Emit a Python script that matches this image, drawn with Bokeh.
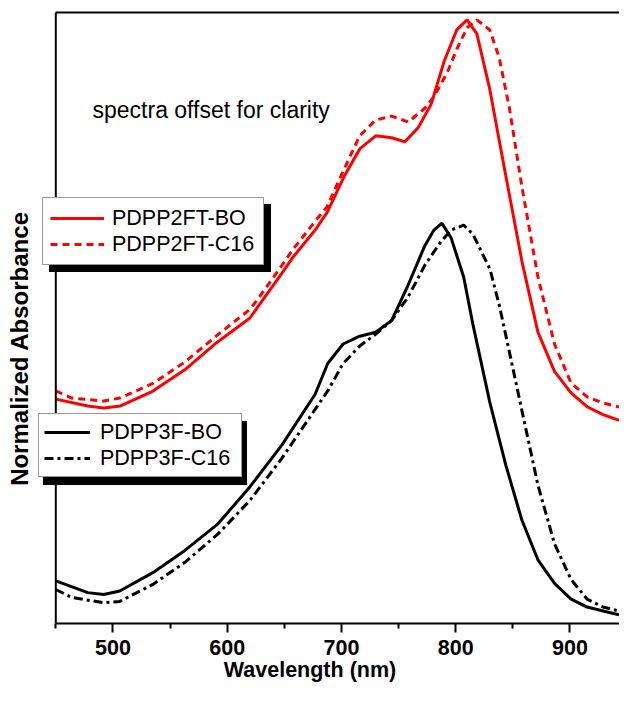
import math
from bokeh.plotting import figure
from bokeh.models import Range1d, LinearAxis, FixedTicker, Legend, LegendItem, Label, Span, Title
from bokeh.embed import file_html
from bokeh.resources import INLINE

# ---- data ----
wl_3f_bo = [450, 478, 492, 506, 535, 563, 592, 620, 648, 677, 688, 701.5, 716, 730, 744,
            758.5, 773, 781, 788, 796, 807, 815, 830, 844, 858, 872, 886.5, 901, 915, 929, 943]
abs_3f_bo = [0.085, 0.055, 0.05, 0.059, 0.106, 0.163, 0.231, 0.326, 0.433, 0.5625, 0.641, 0.691,
             0.711, 0.721, 0.7515, 0.8425, 0.9425, 0.9825, 1.0, 0.9625, 0.8625, 0.7425, 0.5405,
             0.38, 0.24, 0.139, 0.0785, 0.0385, 0.018, 0.008, -0.002]

wl_3f_c16 = [450, 464, 492, 506, 535, 563, 592, 620, 648, 677, 688, 701.5, 716, 730, 744,
             758.5, 773, 787, 796, 807, 815, 830, 838, 847, 858, 872, 886.5, 901, 915, 929, 943]
abs_3f_c16 = [0.063, 0.0425, 0.029, 0.0325, 0.076, 0.1325, 0.205, 0.291, 0.399, 0.524, 0.571,
              0.641, 0.686, 0.716, 0.7515, 0.812, 0.8925, 0.9525, 0.9825, 0.995, 0.9725, 0.8825,
              0.7925, 0.671, 0.5205, 0.33, 0.18, 0.0885, 0.0385, 0.018, 0.008]

wl_2ft_bo = [450, 478, 492, 506.6, 534.7, 562.9, 591, 620, 626, 648, 657.5, 677, 687.5, 702, 716,
             730, 744, 755.5, 767, 778.5, 790, 801, 810, 818.5, 829.7, 838, 847, 858, 872, 886.5,
             901, 915, 929, 943]
abs_2ft_bo = [0.55, 0.5325, 0.5275, 0.5325, 0.57, 0.625, 0.695, 0.7575, 0.7825, 0.8725, 0.9125,
              0.9825, 1.0275, 1.1175, 1.19, 1.2235, 1.2185, 1.2085, 1.2438, 1.304, 1.415, 1.495,
              1.52, 1.485, 1.345, 1.2135, 1.073, 0.9025, 0.7215, 0.621, 0.566, 0.5305, 0.5105,
              0.4955]

wl_2ft_c16 = [450, 464, 492, 506, 535, 563, 592, 620, 626, 648, 657.5, 677, 687.5, 701.5, 716,
              730, 744, 758.5, 773, 781, 792.4, 801, 810, 818.5, 829.7, 838, 847, 858, 872, 886.5,
              901, 915, 929, 943]
abs_2ft_c16 = [0.571, 0.5528, 0.545, 0.5528, 0.59, 0.645, 0.715, 0.78, 0.8025, 0.8925, 0.9325,
               1.005, 1.0425, 1.133, 1.2235, 1.264, 1.274, 1.259, 1.294, 1.324, 1.384, 1.445, 1.5,
               1.52, 1.495, 1.425, 1.295, 1.093, 0.8625, 0.691, 0.591, 0.556, 0.54, 0.53]

x_major_ticks = [500, 600, 700, 800, 900]
x_minor_ticks = [450, 550, 650, 750, 850]
x_axis_start, x_axis_end = 450, 943.4

FONT = "Liberation Sans"
W, H = 619, 688
FRAME_BOTTOM = 623  # px from the top of the figure

p = figure(width=W, height=H, x_range=Range1d(401.6, x_axis_end), y_range=Range1d(-0.024, 1.539),
           output_backend="svg", toolbar_location=None, y_axis_location=None,
           min_border_left=0, min_border_right=0, min_border_top=12,
           min_border_bottom=H - FRAME_BOTTOM)
p.outline_line_color = None
p.grid.visible = False
p.background_fill_color = "white"
p.border_fill_color = "white"

# bottom axis
xa = p.xaxis[0]
xa.bounds = (x_axis_start, x_axis_end)
xa.ticker = FixedTicker(ticks=x_major_ticks, minor_ticks=x_minor_ticks)
xa.axis_line_width = 2
xa.axis_line_color = "black"
xa.major_tick_line_width = 2
xa.minor_tick_line_width = 2
xa.major_tick_line_color = "black"
xa.minor_tick_line_color = "black"
xa.major_tick_in = 0
xa.major_tick_out = 9
xa.minor_tick_in = 0
xa.minor_tick_out = 5
xa.major_label_standoff = 7
xa.major_label_text_font = FONT
xa.major_label_text_font_style = "bold"
xa.major_label_text_font_size = "21.5px"
xa.major_label_text_color = "black"

# top frame line
top = LinearAxis(ticker=FixedTicker(ticks=[], minor_ticks=[]), bounds=(x_axis_start, x_axis_end),
                 axis_line_width=2, axis_line_color="black", major_tick_line_color=None,
                 minor_tick_line_color=None, major_tick_out=0, minor_tick_out=0,
                 major_label_standoff=0, major_label_text_font_size="0px")
p.add_layout(top, "above")

# left frame line at the start of the wavelength axis
p.add_layout(Span(location=x_axis_start, dimension="height", line_color="black", line_width=2))

# x-axis title
p.add_layout(Title(text="Wavelength (nm)", align="center", offset=36, standoff=-3,
                   text_font=FONT, text_font_size="21.5px", text_font_style="bold",
                   text_color="black"), "below")

# curves
r_2ft_bo = p.line(wl_2ft_bo, abs_2ft_bo, line_color="red", line_width=3)
r_2ft_c16 = p.line(wl_2ft_c16, abs_2ft_c16, line_color="red", line_width=3, line_dash="7 5")
r_3f_bo = p.line(wl_3f_bo, abs_3f_bo, line_color="black", line_width=3)
r_3f_c16 = p.line(wl_3f_c16, abs_3f_c16, line_color="black", line_width=3, line_dash="9 4 3 4")

# empty renderers for the legend shadows
sh_a = p.line([], [], line_color="black", line_width=3)
sh_b = p.line([], [], line_color="black", line_width=3)


def style_legend(lg, glyph_w, pad, row_h, standoff, label_w):
    lg.glyph_width = glyph_w
    lg.glyph_height = row_h
    lg.label_height = row_h
    lg.label_width = label_w
    lg.padding = pad
    lg.spacing = 0
    lg.margin = 0
    lg.label_standoff = standoff
    lg.label_text_font = FONT
    lg.label_text_font_size = "21.5px"
    lg.label_text_color = "black"
    lg.border_line_width = 1


# legend 1 (red) with its drop shadow
shadow1 = Legend(items=[LegendItem(label=" ", renderers=[sh_a]), LegendItem(label=" ", renderers=[sh_b])],
                 location=(49, 351))
style_legend(shadow1, 54, 7, 26, 8, 144)
shadow1.background_fill_color = "black"
shadow1.background_fill_alpha = 1
shadow1.border_line_color = "black"
p.add_layout(shadow1, "center")

leg1 = Legend(items=[LegendItem(label="PDPP2FT-BO", renderers=[r_2ft_bo]),
                     LegendItem(label="PDPP2FT-C16", renderers=[r_2ft_c16])],
              location=(42, 358))
style_legend(leg1, 54, 7, 26, 8, 144)
leg1.background_fill_color = "white"
leg1.background_fill_alpha = 1
leg1.border_line_color = "#333333"
p.add_layout(leg1, "center")

# legend 2 (black) with its drop shadow
shadow2 = Legend(items=[LegendItem(label=" ", renderers=[sh_a]), LegendItem(label=" ", renderers=[sh_b])],
                 location=(43, 138))
style_legend(shadow2, 46, 5, 26, 10, 136)
shadow2.background_fill_color = "black"
shadow2.background_fill_alpha = 1
shadow2.border_line_color = "black"
p.add_layout(shadow2, "center")

leg2 = Legend(items=[LegendItem(label="PDPP3F-BO", renderers=[r_3f_bo]),
                     LegendItem(label="PDPP3F-C16", renderers=[r_3f_c16])],
              location=(38, 146))
style_legend(leg2, 46, 5, 26, 10, 136)
leg2.background_fill_color = "white"
leg2.background_fill_alpha = 1
leg2.border_line_color = "#333333"
p.add_layout(leg2, "center")

# texts inside the frame
p.add_layout(Label(x=92, y=FRAME_BOTTOM - 109, x_units="screen", y_units="screen",
                   text="spectra offset for clarity", text_font=FONT, text_font_size="23px",
                   text_color="black", text_align="left", text_baseline="alphabetic"))
p.add_layout(Label(x=18.5, y=FRAME_BOTTOM - 348, x_units="screen", y_units="screen",
                   angle=math.pi / 2, text="Normalized Absorbance", text_font=FONT,
                   text_font_size="24px", text_font_style="bold", text_color="black",
                   text_align="center", text_baseline="middle"))

open("out.html", "w").write(file_html(p, INLINE))
